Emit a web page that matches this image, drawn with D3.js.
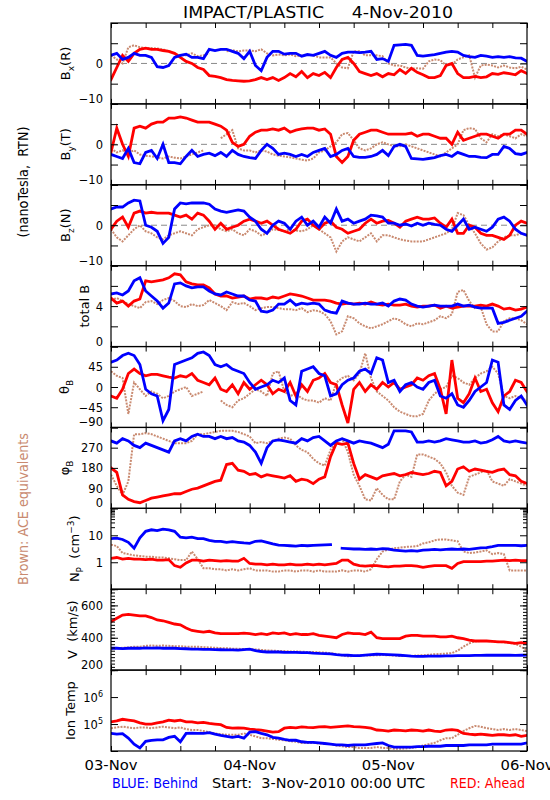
<!DOCTYPE html>
<html><head><meta charset="utf-8">
<script src="https://cdn.jsdelivr.net/npm/d3@7"></script>
<style>body{margin:0;background:#fff} text{white-space:pre}</style>
</head><body><svg id="c" width="550" height="800"></svg>
<script>
// ---- hourly samples, 03-Nov-2010 00:00 UTC (h=0) .. 06-Nov 00:00 (h=72) ----
const hours = d3.range(0, 73);

const bxRed = [-4,-1,2,0.5,2.5,3.5,3.8,3.5,3.5,3.2, 3,2.5,1.5,0.5,0,-1,-1.5,-3,-3.2,-3.5, -4,-4.2,-4.3,-4.4,-4.3,-4,-3.5,-4,-3.5,-4.2, -3.5,-2.5,-3.3,-2,-3.5,-2.5,-3,-2.2,-3.5,-1, 1,1.5,0,-2,-2.5,-3,-2.5,-3.3,-2.5,-2.8, -1.5,-2.5,-1.2,-2.2,-2.8,-3.5,-3.5,-3,-0.5,0, -2.5,-3.5,-3.5,-3.2,-3.5,-3.3,-2.5,-2.7,-2.3,-2.5, -2.8,-1.8,-2.5];
const bxBlue = [2,2.5,1,1.5,2.5,2,2,1.5,-0.8,-1, -0.5,1.5,2,2.3,1.5,1.5,1.2,3.5,3.2,3.5, 3.5,3,2.5,1.2,3,-0.5,-1.8,1.5,3,3, 2.3,2.5,2.5,1.8,2.2,2,2.5,3,2,1.5, 2.5,2.8,2.8,2.7,2.8,3,1,1.2,0.5,4.5, 4.6,4.7,4.5,2,1.8,2,2.2,2.5,2.8,3, 2.8,2,1.7,1.5,2,1.8,1.5,1.7,1.5,1.7, 1.4,1.3,0.5];
const bxAce = [2,1,0,4,4.5,4,3.8,3.8,3.7,3.5, 3,2.5,2,2,2.5,1.8,2,2.5,null,null, 3,3.3,3,3.2,3.2,3,3.5,2.5,2,2.2, 2,2.2,1.8,2,null,2,1.5,1.5,1.5,0, -1,-1.2,3,3,2,2,2,1.8,0,-0.5, -0.5,-1,-1.3,-1.2,-1.3,0.5,1,0.8,-0.5,-0.3, 1,1.5,2,-3.5,-0.5,-0.3,-0.5,-1,-0.5,-1, -1.2,-0.8,-1.5];

const byRed = [-2,4,0,-3,4,4.5,4,5,5.5,5.5, 6.5,6.5,6.8,6.5,6,5.5,5.5,5.5,5,4.5, 3.5,0.5,-0.5,0,2,3,3.5,3.5,3.8,3.5, 4,3,3.5,3.8,4,4,3.5,3.8,2.5,-3, -4.5,-3,1,2.5,3,3.5,3.5,3,2.5,2.5, 2.5,2.5,2.8,2,2.5,2.5,2,1.5,1.5,0, 3,1,1.5,2,2.5,2.5,2,1.5,2.5,2.5, 3.5,3.5,2.5];
const byBlue = [-2.5,-3,-3.5,-1,-4.5,-4.8,-2,-1.5,-3.5,0, -4.5,-4.5,-4.8,-3,-1.5,-3,-2.5,-2.2,-2.8,-2, -3,-1.5,-2.5,-3,-3.3,-3.5,-1.5,0,-1,-2.5, -2.2,-2.5,-3,-2.5,-3,-2,-1.5,-1,-3,-2.5, -1.5,-1,-3,-3.2,-3.2,-3,-2.5,-1.5,-2.8,-0.5, 0,-0.5,-3.5,-3.6,-3.7,-3.5,-3.3,-2.8,-2.5,-3, -2,-2.5,-3,-3,-3.2,-3.3,-2.5,-2.5,-0.5,-1, -2.3,-2.5,-2];
const byAce = [-1,-2,-1.5,-2,-1.5,-2.5,-2.8,-3,-3.2,-3.5, -3,-3.3,-3.5,-3,-2.5,-2,-1.5,null,null,1.5, 2.5,3.5,-1,-1.5,-1.5,-2,-1.5,-1.8,-2.5,-2.8, -3,-3.2,-3.5,-3.8,-4,-3.5,-2,-1.5,-0.5,0.5, 2.5,2.8,1,-1,-1.5,-1,0,0.5,0,-0.5, -0.5,0,-0.5,-1,-1.5,-2,-2.5,-3,-2,-1, 0,3.5,4,3.8,1.5,0.5,2.5,2,2.5,2, 1.5,2.5,2];

const bzRed = [-1,1,2,-0.5,3,3.5,3,3.2,3,3, 3,2.5,2,2.5,1.5,3,2.5,1,-1,0.5, -1,-0.5,0,1,1.5,1,0.5,1,0,-1, -1.5,-2,-1,1,1.5,0,-1,0.5,1,-0.5, -1,-2,-1.5,-1,0.5,1.5,0.5,1,1.2,0.5, -0.5,1,1.5,2,1.5,1.5,1.8,0.5,-0.5,1.5, -2,-2,0,-0.5,-2,-2.5,-2.5,-3,-3.5,-2.5, 0,1,0.5];
const bzBlue = [4,4.5,4.5,5.5,6.2,6,0,-0.5,-1.5,-4.5, -3,4,5.5,5.3,5.5,5.5,5.5,5.2,4,3.5, 3.2,3.5,3.8,3.5,2,1,-1,-2,0,1, 0.5,-1,1,2,0,1,-0.5,2,0.5,4, 1,1.5,0.5,1,1.5,2.5,2.3,2,0.5,0.5, 0,0.3,-0.2,0.5,0,0.5,0.2,0,-1,-1.5, 0,1.5,-1,-0.5,-1,-1.5,-0.5,1.5,2,1, -1,-2,-2.5];
const bzAce = [-1,-3,-4,-2.5,-1,0,-1.5,-2,-3,-3.5, -2.5,-2,-1.5,-2,-2.5,-1,-0.5,0,0,-1, -1.5,-1,-2,-2.5,-1,-1.5,-2.5,-2,-1,-1.2, -1.5,-1,-1.3,-1.5,-1,0,-1,-2,-3,-6.5, -4,-3,-3.5,-4,-3,-2,-4,-2.5,-2.5,-3, -3.5,-3.8,-4,-4,-4,-3.5,-3,-2.5,-2,-1, 3,2.5,0,-2,-4.5,-6,-5.5,-4,-3,-2.5, -2.5,-2,-2.5];

const btRed = [4.8,4.3,4.5,4,4.5,4.7,6.5,6.4,6.5,6.6, 6.8,7.2,7.1,6.4,6.2,6.1,6.1,5.8,5.2,5, 5,4.8,4.9,5,4.7,4.8,4.8,4.7,4.9,4.8, 5,5.2,5.1,5,4.8,4.6,4.6,4.6,4.5,4.3, 4.2,4.3,4.2,4.3,4.2,4.4,4.2,4.1,4.2,4.1, 4.1,4.2,4,3.9,4,4,4.1,3.8,4,3.8, 3.9,4,4,4,4.1,4,4.2,4,3.7,3.8, 3.6,3.7,3.9];
const btBlue = [5.2,5.3,5.1,5.5,6.5,6.8,5.5,5,4.5,3.8, 4.3,6.2,6.3,6,5.8,5.9,5.9,5.5,5.2,5.1, 5.4,5.2,5,5,4.6,4.5,3.5,3.4,3.6,4.2, 4.2,4.6,4.1,4.3,4.2,4.3,4.2,3.6,3.4,3.3, 4.5,4.3,4.2,4.2,4.3,4.2,4.2,4.3,4,4.5, 4.7,4.6,4.2,4,3.9,4,4.1,4,4,4, 4.2,4,4.1,3.9,3.8,3.8,3.8,2.3,2.4,2.6, 2.8,3,3.5];
const btAce = [4.6,4.8,4.5,4.2,4,3.8,4.4,4.5,4.2,4.6, 4.8,4.5,4,3.9,4.2,4,4.1,4.6,4.3,4, 3.6,4.4,4.2,4.3,4,3.6,3.8,3.9,3.9,3.8, 3.7,3.7,3.6,3.8,3.4,3.6,3.5,3.2,2.5,1.2, 1.5,3,2.8,2.3,2,1.8,2,2.2,2.5,2.8, 2.6,2.2,2,2.3,2.2,2.4,2.6,3,2.8,3.2, 5.4,5.6,4.5,3.8,3.9,2.2,1.5,1.5,2.5,2.8, 2.8,2.6,2.2];

const thRed = [-20,-25,-5,30,40,30,25,28,28,25, 22,20,25,22,30,15,10,5,20,-5, -10,5,-15,10,-5,5,15,5,-15,-5, -10,10,-20,5,-10,15,20,30,10,5, -40,-80,-5,10,-10,5,-5,10,0,10, -5,0,5,20,15,25,30,-5,-60,60, -25,-35,-15,20,-10,-5,-35,-55,-20,-10, 15,10,-10];
const thBlue = [55,60,70,75,70,50,-5,-15,-20,-75, -50,50,55,60,65,75,78,70,50,45, 50,40,35,30,10,-5,0,5,15,10, 20,-30,-40,35,40,45,30,25,-20,-15, 5,15,20,35,40,30,65,60,10,15, -10,5,10,0,-5,10,15,-20,-25,-15, -40,-45,-30,-10,0,10,60,55,-40,-50, -30,-20,-40];
const thAce = [35,25,20,-60,10,-5,-20,-10,-15,-25, -20,-10,-5,0,-20,-15,-10,null,null,-30, -40,-45,-30,-25,-15,-5,-10,-20,30,35, -10,-20,-15,-25,-30,-30,-35,-25,-30,10, 20,25,15,30,75,20,-10,-20,-30,-45, -55,-60,-65,-65,-60,-30,-15,-5,0,25, 20,10,5,20,30,35,45,30,-20,-25, -20,-25,-30];

const phRed = [180,160,60,40,30,25,35,45,50,55, 60,65,65,75,85,90,100,110,120,125, 195,200,170,165,150,155,140,150,145,140, 135,145,120,130,125,110,130,140,230,290, 285,290,200,130,150,140,130,145,150,155, 145,150,160,155,150,155,165,160,100,120, 175,185,165,175,170,165,160,170,175,150, 145,120,110];
const phBlue = [300,290,310,300,280,270,290,280,270,260, 250,300,310,300,320,330,320,320,310,320, 310,315,300,295,280,250,200,270,300,305, 300,295,290,310,300,315,320,300,280,300, 310,300,290,300,295,290,280,270,285,345, 345,345,340,295,295,300,295,300,310,305, 300,295,295,300,290,295,305,320,300,295, 300,295,290];
const phAce = [150,100,60,120,330,330,335,330,320,310, 300,290,290,290,300,330,330,335,340,345, 345,345,340,330,320,290,295,290,300,310, 315,310,280,260,250,220,200,190,260,300, 310,250,150,100,40,35,90,60,40,40, 120,150,140,240,240,230,220,200,160,100, 70,60,140,150,160,170,120,110,100,130, 120,110,100];

const npRed = [1.4,1.5,1.3,1.4,1.3,1.3,1.25,1.3,1.2,1.2, 1.25,0.75,0.65,0.95,1.2,1.2,1.1,1.2,1.15,1.1, 1.15,1.1,1.1,1.4,0.9,0.85,0.85,0.8,0.85,0.8, 0.8,0.85,0.8,0.8,0.85,0.8,0.85,0.8,0.85,0.9, 1.2,1.2,0.85,0.75,0.72,0.75,0.75,0.7,0.68,0.72, 0.72,0.75,0.75,0.72,0.65,0.7,0.75,0.75,0.75,0.6, 0.9,1.05,1.05,1.05,1.05,1.1,1.1,1.15,1.2,1.15, 1.2,1.15,1.15];
const npBlue = [7.5,7.8,7,5.5,3.3,8,14,16,15,17, 16,14,8.5,8,8.5,7.5,7.5,6.5,6,6, 5.5,5.8,5.5,5.2,5,6,6.2,5.5,4.8,4.3, 4.2,4.1,4,4.2,4.1,4.2,4.3,4.4,4.5,null, 3.3,3.2,3.1,3.1,3,3.1,3,3.2,3.1,2.8, 2.7,2.6,2.7,2.6,2.8,2.9,3,2.9,3,3.1, 3,3.1,3,3.2,3.4,3.5,3.8,4.2,4.2,4.2, 4.2,4.1,4.2];
const npAce = [4.5,4,2.2,2,1.8,1.7,1.6,1.6,1.5,1.5, 1.4,1.3,1.2,1.2,2.5,1.3,0.6,0.6,0.55,0.55, 0.5,0.55,0.5,0.55,0.6,0.5,0.5,0.5,0.45,0.45, 0.5,0.5,0.45,0.5,0.5,0.45,0.5,0.45,0.45,0.45, 0.5,0.45,0.5,0.5,0.45,0.55,1.3,2.5,3,3.3, 3.5,3.7,3.8,4,5,5.5,6.5,7,7,6.5, 6,2.5,2.2,2.3,2.5,2.8,2,2.2,2,0.5, 0.5,0.5,0.5];

const vRed = [500,520,540,545,540,535,535,525,510,505, 495,485,480,460,445,440,435,440,430,425, 425,425,425,428,425,420,425,420,430,425, 430,420,425,420,420,425,415,410,405,400, 420,430,425,425,420,435,400,395,395,395, 395,410,415,415,410,410,410,405,405,410, 400,395,385,380,380,380,378,375,375,370, 365,370,365];
const vBlue = [335,335,333,335,335,335,338,336,337,335, 336,335,333,332,330,330,328,328,327,326, 325,325,324,327,330,320,315,312,313,312, 310,310,310,308,308,305,303,302,300,296, 293,292,290,290,293,296,298,297,296,294, 292,290,287,285,285,286,287,287,288,288, 290,289,290,291,291,292,292,292,292,292, 291,292,293];
const vAce = [330,335,338,340,345,345,350,352,350,352, 350,348,348,345,345,345,342,340,338,336, 335,333,332,330,330,328,325,322,320,318, 318,316,315,314,312,312,310,308,305,300, 290,285,288,290,292,290,292,293,292,290, 288,288,288,290,292,295,298,300,302,305, 320,345,365,378,380,380,378,375,372,368, 362,345,320];

const tRed = [1.2e5,1.3e5,1.5e5,1.4e5,1.3e5,1.1e5,1.0e5,1.0e5,1.1e5,1.2e5, 1.4e5,1.3e5,1.4e5,1.2e5,1.2e5,1.1e5,1.15e5,1.05e5,1.0e5,9.5e4, 7.5e4,7e4,7.2e4,7e4,6.5e4,6.2e4,6e4,5.5e4,5e4,5.2e4, 7e4,7.5e4,7.2e4,7.8e4,7.5e4,7.4e4,7.8e4,8e4,7.5e4,7.8e4, 8.2e4,8.5e4,8e4,7.8e4,7.5e4,7e4,6e4,5.8e4,5.5e4,6e4, 5.8e4,5.6e4,6e4,5.8e4,5.5e4,6e4,5.5e4,5.2e4,6e4,6.2e4, 5.8e4,4.5e4,4.2e4,4e4,4.2e4,4e4,3.8e4,4e4,4e4,3.8e4, 4e4,3.5e4,3.8e4];
const tBlue = [4.5e4,4.2e4,4.4e4,3e4,1.8e4,1.3e4,2.3e4,2.5e4,2.6e4,2.6e4, 3.2e4,3.5e4,2.2e4,4.5e4,4.6e4,4.5e4,4.5e4,4.8e4,4.2e4,3.8e4, 3.5e4,3.2e4,3.5e4,3e4,5e4,5.2e4,4.5e4,4e4,3.2e4,3e4, 2.7e4,2.5e4,2.5e4,2.2e4,2.1e4,2.1e4,2e4,1.9e4,1.8e4,1.7e4, 1.7e4,1.6e4,1.7e4,1.7e4,1.7e4,1.8e4,1.9e4,2e4,1.6e4,1.4e4, 1.4e4,1.4e4,1.4e4,1.45e4,1.45e4,1.5e4,1.5e4,1.5e4,1.6e4,1.6e4, 1.6e4,1.6e4,1.7e4,1.7e4,1.7e4,1.7e4,1.8e4,1.8e4,1.8e4,1.8e4, 1.8e4,1.8e4,2e4];
const tAce = [7e4,7.5e4,8e4,7.5e4,7e4,7.5e4,7.5e4,7e4,7.5e4,8e4, 7.5e4,7e4,7.5e4,6.5e4,6e4,6e4,5.5e4,5e4,4.5e4,4.2e4, 4e4,4e4,4e4,4.5e4,4e4,3.5e4,3e4,3e4,2.8e4,2.6e4, 2.5e4,2.3e4,2.2e4,2e4,2e4,2e4,1.9e4,1.8e4,1.8e4,1.6e4, 1.5e4,1.4e4,1.4e4,1.3e4,1.3e4,1.3e4,1.4e4,1.3e4,1.3e4,1.2e4, 1.2e4,1.25e4,1.3e4,1.4e4,1.6e4,1.8e4,2e4,2.5e4,3e4,3e4, 4e4,5.5e4,7e4,8.5e4,8e4,7e4,6.5e4,6e4,6.5e4,6e4, 6.5e4,6e4,5.5e4];

// ---- axis tick values / labels ----
const bTicks = [-10,-5,0,5,10], bLabels = ["−10","0"];
const btTicks = [0,2,4,6,8], btLabels = ["0","4"];
const thTicks = [-90,-45,0,45,90], thLabels = ["−90","−45","0","45"];
const phTicks = [0,90,180,270,360], phLabels = ["0","90","180","270"];
const npTicks = [0.1,1,10,100], npLabels = ["1","10"];
const vTicks = [200,400,600], vLabels = ["200","400","600"];
const tTicks = [1e4,1e5,1e6,1e7], tLabels = ["5","6"];
const dayLabels = ["03-Nov","04-Nov","05-Nov","06-Nov"];

// ---- layout ----
const L = 111, R = 527, T = 23, B = 751, NP = 9, PH = (B - T) / NP;
const FONT = "DejaVu Sans, Liberation Sans, sans-serif";
const RED = "#ff0000", BLUE = "#0000ff", BROWN = "#c98a70";
const t0 = Date.UTC(2010, 10, 3);
const dates = hours.map(h => new Date(t0 + h * 3600e3));
const x = d3.scaleUtc().domain([new Date(t0), new Date(t0 + 72 * 3600e3)]).range([L, R]);

const svg = d3.select("#c");
svg.append("rect").attr("width", 550).attr("height", 800).attr("fill", "#fff");

const panels = [
  {lab: [["B",0],["x",1],["(R)",0]], lx: 70, dom: [-10,10], ticks: bTicks, labs: {"-10":bLabels[0],"0":bLabels[1]}, zero: true, s: [bxAce, bxRed, bxBlue]},
  {lab: [["B",0],["y",1],["(T)",0]], lx: 70, dom: [-10,10], ticks: bTicks, labs: {"-10":bLabels[0],"0":bLabels[1]}, zero: true, s: [byAce, byRed, byBlue]},
  {lab: [["B",0],["z",1],["(N)",0]], lx: 70, dom: [-10,10], ticks: bTicks, labs: {"-10":bLabels[0],"0":bLabels[1]}, zero: true, s: [bzAce, bzRed, bzBlue]},
  {lab: [["total B",0]], lx: 89, dom: [0,8], ticks: btTicks, labs: {"0":btLabels[0],"4":btLabels[1]}, s: [btAce, btRed, btBlue]},
  {lab: [["θ",0],["B",1]], lx: 69, dom: [-90,90], ticks: thTicks, labs: {"-90":thLabels[0],"-45":thLabels[1],"0":thLabels[2],"45":thLabels[3]}, s: [thAce, thRed, thBlue]},
  {lab: [["φ",0],["B",1]], lx: 69, dom: [0,360], ticks: phTicks, labs: {"0":phLabels[0],"90":phLabels[1],"180":phLabels[2],"270":phLabels[3]}, s: [phAce, phRed, phBlue]},
  {lab: [["N",0],["P",1],["  (cm",0],["−3",-1],[")",0]], lx: 79, log: true, dom: [0.1,100], ticks: npTicks, minor: [20,30,40,50,60,70,80,90], labs: {"1":npLabels[0],"10":npLabels[1]}, s: [npAce, npRed, npBlue]},
  {lab: [["V  (km/s)",0]], lx: 77, dom: [200,700], ticks: vTicks, minor: d3.range(200, 701, 20), labs: {"200":vLabels[0],"400":vLabels[1],"600":vLabels[2]}, s: [vAce, vRed, vBlue]},
  {lab: [["Ion Temp",0]], lx: 75, log: true, dom: [1e4,1e7], ticks: tTicks, labs: {"100000":["10",tLabels[0]],"1000000":["10",tLabels[1]]}, s: [tAce, tRed, tBlue]}
];

const defs = svg.append("defs");
const xTicks = d3.range(0, 73, 6).map(h => new Date(t0 + h * 3600e3));

panels.forEach((p, i) => {
  const y0 = T + i * PH, y1 = y0 + PH;
  const y = (p.log ? d3.scaleLog() : d3.scaleLinear()).domain(p.dom).range([y1, y0]);
  const g = svg.append("g");
  defs.append("clipPath").attr("id", "cp" + i).append("rect")
    .attr("x", L).attr("y", y0).attr("width", R - L).attr("height", PH);
  const dg = g.append("g").attr("clip-path", `url(#cp${i})`);
  if (p.zero) {
    dg.append("line").attr("x1", L).attr("x2", R).attr("y1", y(0)).attr("y2", y(0))
      .attr("stroke", "#8a8a8a").attr("stroke-width", 1).attr("stroke-dasharray", "6,4");
  }
  const styles = [
    {c: BROWN, w: 2, dash: "2,1.2"},
    {c: RED, w: 2.8},
    {c: BLUE, w: 2.8}
  ];
  p.s.forEach((data, k) => {
    const line = d3.line()
      .defined(d => d != null)
      .x((d, j) => x(dates[j]))
      .y(d => y(d));
    const path = dg.append("path").datum(data).attr("d", line)
      .attr("fill", "none").attr("stroke", styles[k].c).attr("stroke-width", styles[k].w)
      .attr("stroke-linejoin", "miter").attr("stroke-linecap", "square");
    if (styles[k].dash) path.attr("stroke-dasharray", styles[k].dash).attr("stroke-linecap", "butt");
  });

  // y axes
  g.append("g").attr("transform", `translate(${L},0)`)
    .call(d3.axisLeft(y).tickValues(p.ticks).tickSize(-7).tickPadding(8).tickFormat(""));
  g.append("g").attr("transform", `translate(${R},0)`)
    .call(d3.axisRight(y).tickValues(p.ticks).tickSize(-7).tickFormat(""));
  if (p.minor) {
    g.append("g").attr("transform", `translate(${L},0)`)
      .call(d3.axisLeft(y).tickValues(p.minor).tickSize(-4).tickFormat(""));
    g.append("g").attr("transform", `translate(${R},0)`)
      .call(d3.axisRight(y).tickValues(p.minor).tickSize(-4).tickFormat(""));
  }
  // x ticks top & bottom
  g.append("g").attr("transform", `translate(0,${y1})`)
    .call(d3.axisBottom(x).tickValues(xTicks).tickSize(-5).tickFormat(""));
  g.append("g").attr("transform", `translate(0,${y0})`)
    .call(d3.axisTop(x).tickValues(xTicks).tickSize(-5).tickFormat(""));
  g.selectAll(".domain").remove();
  g.selectAll(".tick line").attr("stroke", "#000").attr("stroke-width", 1);

  // tick labels
  p.ticks.forEach(tv => {
    const lab = p.labs[String(tv)];
    if (lab === undefined) return;
    const ty = y(tv);
    const isBottom = Math.abs(ty - y1) < 0.5;
    const t = g.append("text").attr("x", L - 8).attr("y", isBottom ? ty - 1 : ty + 4.5)
      .attr("text-anchor", "end").style("font-family", FONT).style("font-size", "11.5px").attr("fill", "#000");
    if (Array.isArray(lab)) {
      t.append("tspan").text(lab[0]);
      t.append("tspan").text(lab[1]).attr("dy", -5).style("font-size", "8px");
    } else t.text(lab);
  });

  // frame
  g.append("rect").attr("x", L).attr("y", y0).attr("width", R - L).attr("height", PH)
    .attr("fill", "none").attr("stroke", "#000").attr("stroke-width", 1.2);

  // y title
  const yc = (y0 + y1) / 2;
  const tt = g.append("text").attr("transform", `translate(${p.lx},${yc}) rotate(-90)`)
    .attr("text-anchor", "middle").style("font-family", FONT).style("font-size", "13px").attr("fill", "#000");
  let cur = 0;
  p.lab.forEach(([s, mode]) => {
    const target = mode === 1 ? 4 : mode === -1 ? -5 : 0;
    const ts = tt.append("tspan").text(s).attr("dy", target - cur);
    if (mode !== 0) ts.style("font-size", "9px");
    cur = target;
  });
});

// bottom date labels
dayLabels.forEach((s, k) => {
  svg.append("text").attr("x", x(new Date(t0 + k * 24 * 3600e3))).attr("y", 770)
    .attr("text-anchor", "middle").style("font-family", FONT).style("font-size", "14px")
    .attr("textLength", 53).attr("lengthAdjust", "spacingAndGlyphs").text(s);
});

// title
svg.append("text").attr("x", 183).attr("y", 18).style("font-family", FONT).style("font-size", "16px")
  .attr("textLength", 270).attr("lengthAdjust", "spacingAndGlyphs").text("IMPACT/PLASTIC     4-Nov-2010");

// footer
svg.append("text").attr("x", 112).attr("y", 788).style("font-family", FONT).style("font-size", "14px")
  .attr("fill", BLUE).attr("textLength", 86).attr("lengthAdjust", "spacingAndGlyphs").text("BLUE: Behind");
svg.append("text").attr("x", 212).attr("y", 788).style("font-family", FONT).style("font-size", "14px")
  .attr("fill", "#000").attr("textLength", 213).attr("lengthAdjust", "spacingAndGlyphs").text("Start:  3-Nov-2010 00:00 UTC");
svg.append("text").attr("x", 450).attr("y", 788).style("font-family", FONT).style("font-size", "14px")
  .attr("fill", RED).attr("textLength", 75).attr("lengthAdjust", "spacingAndGlyphs").text("RED: Ahead");

// left side titles
svg.append("text").attr("transform", "translate(28,182) rotate(-90)").attr("text-anchor", "middle")
  .style("font-family", FONT).style("font-size", "14px").attr("textLength", 111).attr("lengthAdjust", "spacingAndGlyphs")
  .text("(nanoTesla,  RTN)");
svg.append("text").attr("transform", "translate(28,509) rotate(-90)").attr("text-anchor", "middle")
  .style("font-family", FONT).style("font-size", "14px").attr("fill", BROWN).attr("textLength", 152).attr("lengthAdjust", "spacingAndGlyphs")
  .text("Brown: ACE equivalents");
</script>
</body></html>
